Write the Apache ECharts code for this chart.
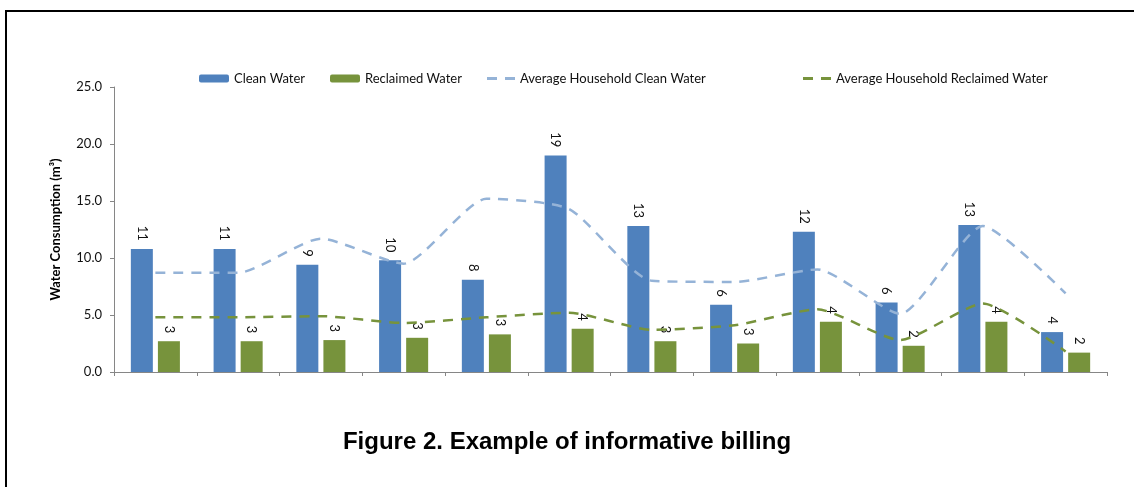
<!DOCTYPE html>
<html>
<head>
<meta charset="utf-8">
<script src="https://cdn.jsdelivr.net/npm/echarts@6/dist/echarts.min.js"></script>
<style>
  html, body { margin: 0; padding: 0; background: #fff; }
  #chart { width: 1134px; height: 487px; }
</style>
</head>
<body>
<div id="chart"></div>
<script>
// data
var categories = ['1', '2', '3', '4', '5', '6', '7', '8', '9', '10', '11', '12'];
var cleanWater = [10.8, 10.8, 9.4, 9.8, 8.1, 19.0, 12.8, 5.9, 12.3, 6.1, 12.9, 3.5];
var reclaimedWater = [2.7, 2.7, 2.8, 3.0, 3.3, 3.8, 2.7, 2.5, 4.4, 2.3, 4.4, 1.7];
var avgClean = [8.7, 8.7, 11.7, 9.5, 15.2, 14.3, 8.0, 7.9, 9.0, 5.1, 12.8, 6.9];
var avgReclaimed = [4.8, 4.8, 4.9, 4.3, 4.8, 5.2, 3.7, 4.1, 5.5, 2.8, 6.0, 1.8];
var yTicks = [0, 5, 10, 15, 20, 25];

var FONT = 'Lato';
var DASH_ICON = 'path://M0,0h10v3h-10z M18,0h10v3h-10z';
var chart = echarts.init(document.getElementById('chart'));

function legendAt(name, left, dashed) {
	var item = dashed ? { name: name, icon: DASH_ICON } : name;
	return {
		data: [item],
		left: left,
		top: 67,
		itemWidth: dashed ? 28 : 30,
		itemHeight: dashed ? 3 : 8,
		symbolKeepAspect: false,
		textStyle: { fontFamily: FONT, fontSize: 13, color: '#111' }
	};
}

var barLabel = {
	show: true,
	position: 'top',
	rotate: -90,
	align: 'right',
	verticalAlign: 'middle',
	distance: 8,
	fontFamily: FONT,
	fontSize: 13,
	color: '#111',
	formatter: function (p) { return Math.round(p.value); }
};

chart.setOption({
	animation: false,
	backgroundColor: '#fff',
	title: {
		text: 'Figure 2. Example of informative billing',
		left: 'center',
		top: 425,
		textStyle: { fontFamily: 'Liberation Sans', fontWeight: 'bold', fontSize: 24, color: '#000' }
	},
	legend: [
		legendAt('Clean Water', 194, false),
		legendAt('Reclaimed Water', 325, false),
		legendAt('Average Household Clean Water', 482, true),
		legendAt('Average Household Reclaimed Water', 798, true)
	],
	grid: { left: 114, right: 27, top: 87, bottom: 115 },
	xAxis: {
		type: 'category',
		data: categories,
		axisLine: { lineStyle: { color: '#868686', width: 1 } },
		axisTick: { show: true, length: 4, interval: 0, lineStyle: { color: '#868686' } },
		axisLabel: { show: false }
	},
	yAxis: {
		type: 'value',
		min: yTicks[0],
		max: yTicks[yTicks.length - 1],
		interval: 5,
		name: 'Water Consumption (m³)',
		nameLocation: 'middle',
		nameGap: 52,
		nameTextStyle: { fontFamily: FONT, fontWeight: 'bold', fontSize: 13, color: '#000' },
		splitLine: { show: false },
		axisLine: { show: true, lineStyle: { color: '#868686', width: 1 } },
		axisTick: { show: true, length: 4, lineStyle: { color: '#868686' } },
		axisLabel: {
			margin: 12,
			fontFamily: FONT,
			fontSize: 13,
			color: '#111',
			formatter: function (v) { return v.toFixed(1); }
		}
	},
	series: [{
		name: 'Clean Water',
		type: 'bar',
		data: cleanWater,
		barWidth: 22,
		barGap: '23%',
		itemStyle: { color: '#4F81BD' },
		label: barLabel
	}, {
		name: 'Reclaimed Water',
		type: 'bar',
		data: reclaimedWater,
		barWidth: 22,
		itemStyle: { color: '#77933C' },
		label: barLabel
	}, {
		name: 'Average Household Clean Water',
		type: 'line',
		data: avgClean,
		symbol: 'none',
		smooth: 0.2,
		z: 5,
		itemStyle: { color: '#95B3D7' },
		lineStyle: { color: '#95B3D7', width: 2.5, type: [10, 8] }
	}, {
		name: 'Average Household Reclaimed Water',
		type: 'line',
		data: avgReclaimed,
		symbol: 'none',
		smooth: 0.2,
		z: 5,
		itemStyle: { color: '#77933C' },
		lineStyle: { color: '#77933C', width: 2.5, type: [10, 8] }
	}],
	graphic: [{
		type: 'line',
		shape: { x1: 5, y1: 11, x2: 1134, y2: 11 },
		style: { stroke: '#000', lineWidth: 2 }
	}, {
		type: 'line',
		shape: { x1: 6, y1: 10, x2: 6, y2: 487 },
		style: { stroke: '#000', lineWidth: 2 }
	}]
});
</script>
</body>
</html>
